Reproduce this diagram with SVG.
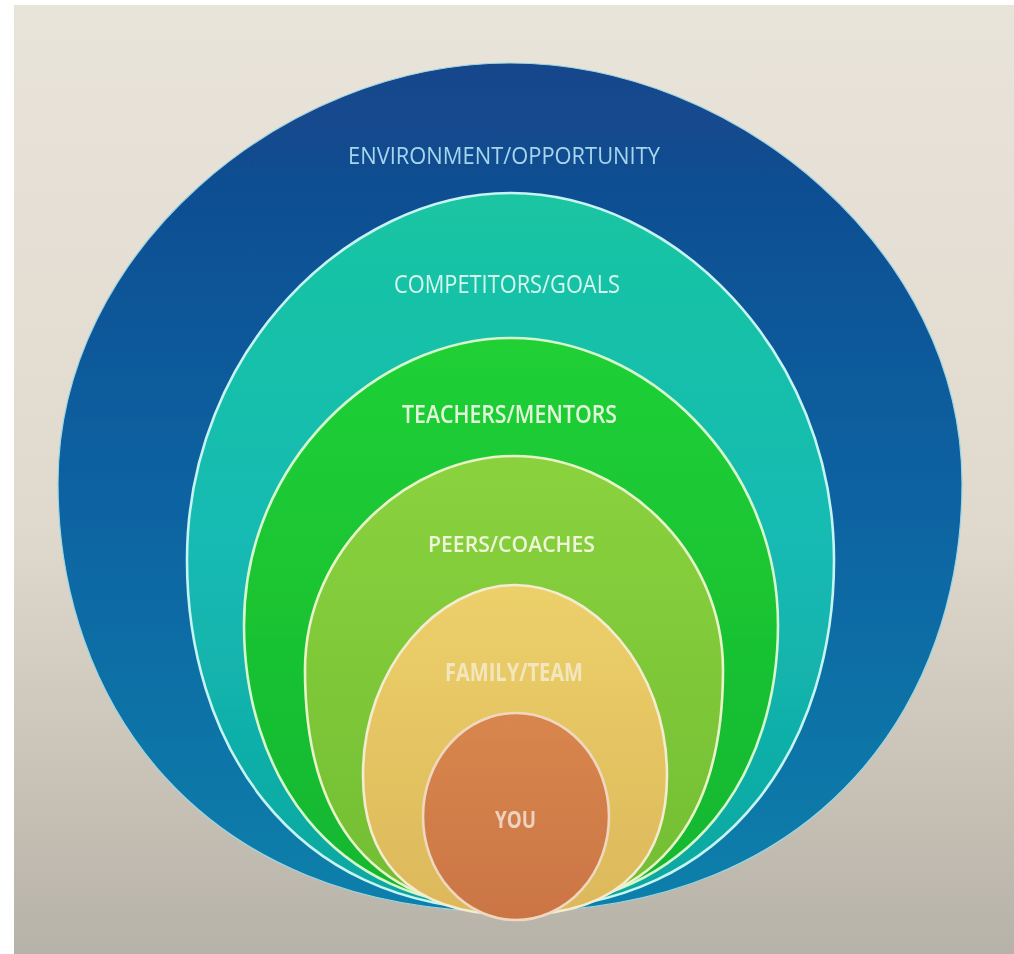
<svg xmlns="http://www.w3.org/2000/svg" width="1014" height="954" viewBox="0 0 1014 954">
  <defs>
    <linearGradient id="bg" x1="0" y1="0" x2="0" y2="1">
      <stop offset="0" stop-color="#e9e4da"/>
      <stop offset="0.55" stop-color="#e0d9ce"/>
      <stop offset="1" stop-color="#b7b2a7"/>
    </linearGradient>
    <linearGradient id="gBlue" gradientUnits="userSpaceOnUse" x1="0" y1="63" x2="0" y2="912">
      <stop offset="0" stop-color="#13468b"/>
      <stop offset="0.5" stop-color="#0c62a1"/>
      <stop offset="1" stop-color="#0b80ab"/>
    </linearGradient>
    <linearGradient id="gTeal" gradientUnits="userSpaceOnUse" x1="0" y1="193" x2="0" y2="910">
      <stop offset="0" stop-color="#1ac5a2"/>
      <stop offset="0.5" stop-color="#14bab3"/>
      <stop offset="1" stop-color="#0ea6a0"/>
    </linearGradient>
    <linearGradient id="gGreen" gradientUnits="userSpaceOnUse" x1="0" y1="338" x2="0" y2="908">
      <stop offset="0" stop-color="#20d036"/>
      <stop offset="1" stop-color="#13b62f"/>
    </linearGradient>
    <linearGradient id="gLime" gradientUnits="userSpaceOnUse" x1="0" y1="456" x2="0" y2="910">
      <stop offset="0" stop-color="#8ad23d"/>
      <stop offset="1" stop-color="#72bd34"/>
    </linearGradient>
    <linearGradient id="gYellow" gradientUnits="userSpaceOnUse" x1="0" y1="585" x2="0" y2="915">
      <stop offset="0" stop-color="#ecd06a"/>
      <stop offset="1" stop-color="#dcb85a"/>
    </linearGradient>
    <linearGradient id="gOrange" gradientUnits="userSpaceOnUse" x1="0" y1="713" x2="0" y2="920">
      <stop offset="0" stop-color="#d8864e"/>
      <stop offset="1" stop-color="#cb7544"/>
    </linearGradient>
    <filter id="soft" x="-5%" y="-5%" width="110%" height="110%">
      <feGaussianBlur stdDeviation="0.7"/>
    </filter>
  </defs>
  <style>
    .ring { stroke-width: 2.6; }
    .label { font-family: "Open Sans", "Liberation Sans", sans-serif; text-anchor: middle; }
  </style>

  <!-- backdrop: screen surface with white photo margins -->
  <rect x="0" y="0" width="1014" height="954" fill="url(#bg)"/>
  <rect x="0" y="0" width="14" height="954" fill="#ffffff"/>
  <rect x="0" y="0" width="1014" height="5" fill="#ffffff"/>

  <g filter="url(#soft)">
    <g id="environment">
      <path d="M510,63 C736,63 962,251 962,483 C962,697 826,912 510,912 C194,912 58,697 58,483 C58,251 284,63 510,63 Z" fill="url(#gBlue)" stroke="#9fd6e2" stroke-width="1.2"/>
      <text class="label" x="504" y="164" font-size="24" fill="#a6d6ec" textLength="312" lengthAdjust="spacingAndGlyphs">ENVIRONMENT/OPPORTUNITY</text>
    </g>
    <g id="competitors">
      <path class="ring" d="M510.5,193 C672,193 834,351 834,560 C834,735 737,910 510.5,910 C284,910 187,735 187,560 C187,351 349,193 510.5,193 Z" fill="url(#gTeal)" stroke="#c6f4f2"/>
      <text class="label" x="507" y="293" font-size="25" fill="#d6f6ee" textLength="226" lengthAdjust="spacingAndGlyphs">COMPETITORS/GOALS</text>
    </g>
    <g id="teachers">
      <path class="ring" d="M511,338 C644.5,338 778,461 778,625 C778,766 698,908 511,908 C324,908 244,766 244,625 C244,461 377.5,338 511,338 Z" fill="url(#gGreen)" stroke="#d6f6cc"/>
      <text class="label" x="509.5" y="423" font-size="25" font-weight="600" fill="#e2f6da" textLength="215" lengthAdjust="spacingAndGlyphs">TEACHERS/MENTORS</text>
    </g>
    <g id="peers">
      <path class="ring" d="M514,456 C618.5,456 723,548 723,670 C723,802 671,910 514,910 C357,910 305,802 305,670 C305,548 409.5,456 514,456 Z" fill="url(#gLime)" stroke="#e8f4c8"/>
      <text class="label" x="511.5" y="552" font-size="22" font-weight="600" fill="#eef5d8" textLength="167" lengthAdjust="spacingAndGlyphs">PEERS/COACHES</text>
    </g>
    <g id="family">
      <path class="ring" d="M515,585 C591,585 667,667 667,775 C667,852 629,915 515,915 C401,915 363,852 363,775 C363,667 439,585 515,585 Z" fill="url(#gYellow)" stroke="#f4ecd0"/>
      <text class="label" x="514" y="681" font-size="25" font-weight="700" fill="#f4e6bc" textLength="138" lengthAdjust="spacingAndGlyphs">FAMILY/TEAM</text>
    </g>
    <g id="you">
      <ellipse class="ring" cx="516" cy="816.5" rx="93" ry="103.5" fill="url(#gOrange)" stroke="#f0d8c0"/>
      <text class="label" x="515.5" y="828" font-size="24" font-weight="700" fill="#eed2c0" textLength="41" lengthAdjust="spacingAndGlyphs">YOU</text>
    </g>
  </g>
</svg>
